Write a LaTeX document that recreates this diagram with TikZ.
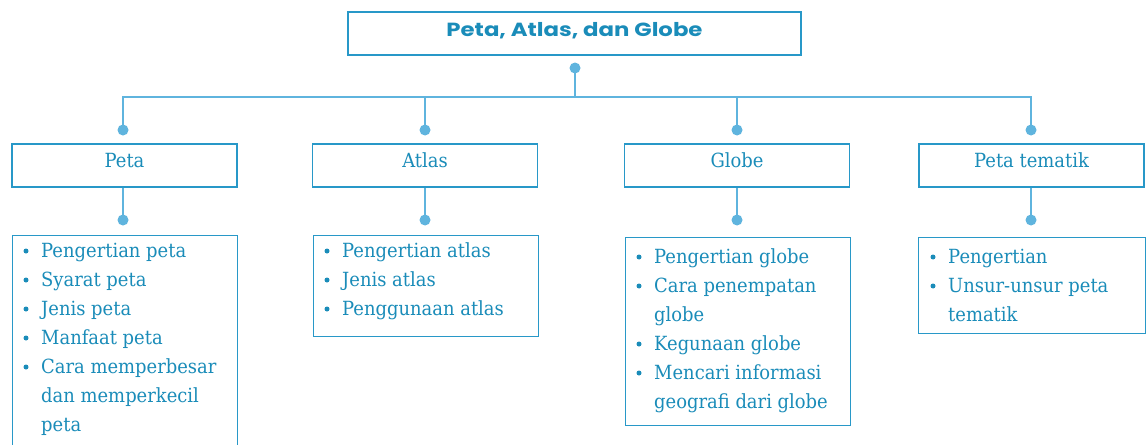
\documentclass[tikz,border=0pt]{standalone}
\usepackage{fontspec}
\setmainfont{DejaVu Serif}[FakeStretch=0.92]
\newfontfamily\titlefont{Poppins}[FakeStretch=1.2]
\definecolor{txt}{RGB}{26,140,185}
\definecolor{conn}{RGB}{95,180,222}
\definecolor{boxc}{RGB}{40,152,200}
\tikzset{
  box/.style={draw=boxc, line width=1.2pt, inner sep=0pt},
  lvl/.style={box, minimum width=225pt, minimum height=43pt, text=txt,
    font=\fontsize{19.5}{24}\selectfont, text height=14pt, text depth=11pt},
  lst/.style={box, minimum width=225pt, anchor=north west},
  itm/.style={anchor=base west, inner sep=0pt, text=txt, font=\fontsize{19.5}{24}\selectfont},
  bul/.style={circle, fill=txt, inner sep=0pt, minimum size=5pt},
  cn/.style={draw=conn, line width=2pt},
  dot/.style={fill=conn, draw=none}
}
\begin{document}
\begin{tikzpicture}[x=1pt,y=-1pt]
\useasboundingbox[fill=white] (0,0) rectangle (1147,444);
% title
\node[box, minimum width=453pt, minimum height=43pt, text=txt, text height=12pt, text depth=5pt,
  font=\titlefont\bfseries\fontsize{19}{22}\selectfont] (title) at (574.5,33.5) {Peta, Atlas, dan Globe};
% level boxes
\node[lvl] (peta) at (124.5,165.5) {Peta};
\node[lvl] (atlas) at (425,165.5) {Atlas};
\node[lvl] (globe) at (737,165.5) {Globe};
\node[lvl] (tema) at (1031.5,165.5) {Peta tematik};
% list boxes
\node[lst, minimum height=220pt] (lpeta) at (12,235) {};
\node[lst, minimum height=101pt] (latlas) at (312.5,235) {};
\node[lst, minimum height=188pt] (lglobe) at (624.5,237) {};
\node[lst, minimum height=96pt, minimum width=227pt] (ltema) at (918,237) {};
% connectors
\coordinate (dt) at (575,68);
\coordinate (bus) at (575,97);
\coordinate (d1) at (123,130);
\coordinate (d2) at (425,130);
\coordinate (d3) at (737,130);
\coordinate (d4) at (1031,130);
\coordinate (e1) at (123,220);
\coordinate (e2) at (425,220);
\coordinate (e3) at (737,220);
\coordinate (e4) at (1031,220);
\draw[cn] (dt) -- (bus);
\draw[cn] (d1) |- (bus);
\draw[cn] (d2) |- (bus);
\draw[cn] (d3) |- (bus);
\draw[cn] (d4) |- (bus);
\draw[cn] (peta.south -| e1) -- (e1);
\draw[cn] (atlas.south -| e2) -- (e2);
\draw[cn] (globe.south -| e3) -- (e3);
\draw[cn] (tema.south -| e4) -- (e4);
\foreach \p in {dt,d1,d2,d3,d4,e1,e2,e3,e4} \fill[dot] (\p) circle (5.5pt);
% Peta list
\foreach \y in {257,286,315,344,373} \node[bul] at (26,\y-6) {};
\node[itm] (p1) at (41,257) {Pengertian peta};
\node[itm] (p2) at (41,286) {Syarat peta};
\node[itm] (p3) at (41,315) {Jenis peta};
\node[itm] (p4) at (41,344) {Manfaat peta};
\node[itm] (p5) at (41,373) {Cara memperbesar};
\node[itm] (p6) at (41,402) {dan memperkecil};
\node[itm] (p7) at (41,431) {peta};
% Atlas list
\foreach \y in {257,286,315} \node[bul] at (327,\y-6) {};
\node[itm] (a1) at (342,257) {Pengertian atlas};
\node[itm] (a2) at (342,286) {Jenis atlas};
\node[itm] (a3) at (342,315) {Penggunaan atlas};
% Globe list
\foreach \y in {263,292,350,379} \node[bul] at (639,\y-6) {};
\node[itm] (g1) at (654,263) {Pengertian globe};
\node[itm] (g2) at (654,292) {Cara penempatan};
\node[itm] (g3) at (654,321) {globe};
\node[itm] (g4) at (654,350) {Kegunaan globe};
\node[itm] (g5) at (654,379) {Mencari informasi};
\node[itm] (g6) at (654,408) {geografi dari globe};
% Tematik list
\foreach \y in {263,292} \node[bul] at (933,\y-6) {};
\node[itm] (t1) at (948,263) {Pengertian};
\node[itm] (t2) at (948,292) {Unsur-unsur peta};
\node[itm] (t3) at (948,321) {tematik};
\end{tikzpicture}
\end{document}
